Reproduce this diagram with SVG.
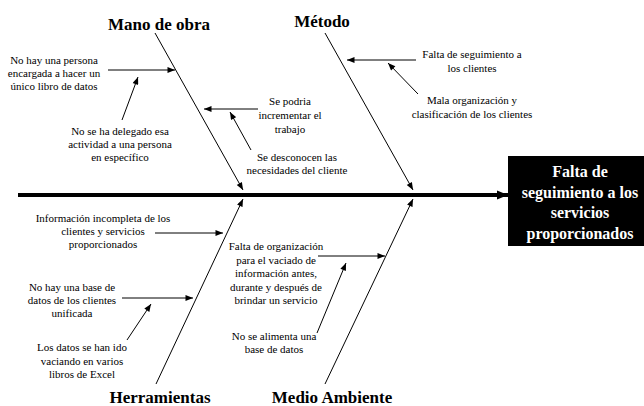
<svg xmlns="http://www.w3.org/2000/svg" width="644" height="406" viewBox="0 0 644 406">
<style>
.t{font-family:'Liberation Serif',Tinos,'Times New Roman',Times,'DejaVu Serif',serif;font-size:11px;fill:#000;text-anchor:middle}
.h{font-family:'Liberation Serif',Tinos,'Times New Roman',Times,'DejaVu Serif',serif;font-size:17px;font-weight:bold;fill:#000;text-anchor:middle}
.b{font-family:'Liberation Serif',Tinos,'Times New Roman',Times,'DejaVu Serif',serif;font-size:16px;font-weight:bold;fill:#fff;text-anchor:middle}
.ln{stroke:#000;stroke-width:1;fill:none;marker-end:url(#ah)}
</style>
<defs>
<marker id="ah" viewBox="0 0 10 8" refX="10" refY="4" markerWidth="9" markerHeight="6" markerUnits="userSpaceOnUse" orient="auto"><path d="M0,0 L10,4 L0,8 z" fill="#000"/></marker>
<marker id="ahb" viewBox="0 0 10 8" refX="10" refY="4" markerWidth="11" markerHeight="10" markerUnits="userSpaceOnUse" orient="auto"><path d="M0,0 L10,4 L0,8 z" fill="#000"/></marker>
</defs>
<rect width="644" height="406" fill="#fff"/>
<g id="connectors">
<line x1="18" y1="195" x2="508" y2="195" stroke="#000" stroke-width="4" marker-end="url(#ahb)"/>
<line class="ln" x1="155" y1="33" x2="243" y2="190"/>
<line class="ln" x1="325" y1="33" x2="413" y2="190"/>
<line class="ln" x1="156" y1="384" x2="243" y2="199"/>
<line class="ln" x1="325" y1="384" x2="413" y2="199"/>
<line class="ln" x1="108" y1="70" x2="175" y2="70"/>
<line class="ln" x1="122" y1="120" x2="138" y2="77"/>
<line class="ln" x1="258" y1="109" x2="204" y2="109"/>
<line class="ln" x1="251" y1="150" x2="230" y2="112"/>
<line class="ln" x1="416" y1="60" x2="347" y2="60"/>
<line class="ln" x1="418" y1="94" x2="388" y2="63"/>
<line class="ln" x1="155" y1="233" x2="223" y2="233"/>
<line class="ln" x1="122" y1="298" x2="193" y2="298"/>
<line class="ln" x1="127" y1="340" x2="151" y2="304"/>
<line class="ln" x1="318" y1="256" x2="385" y2="256"/>
<line class="ln" x1="317" y1="333" x2="346" y2="263"/>
</g>
<g id="effect">
<rect x="508" y="156" width="140" height="90" fill="#000"/>
<text class="b" x="580" y="177">Falta de</text>
<text class="b" x="580" y="198">seguimiento a los</text>
<text class="b" x="580" y="218">servicios</text>
<text class="b" x="580" y="239">proporcionados</text>
</g>
<g id="mano-de-obra">
<text class="h" x="159" y="30">Mano de obra</text>
</g>
<g id="metodo">
<text class="h" x="322" y="27">Método</text>
</g>
<g id="herramientas">
<text class="h" x="160" y="403">Herramientas</text>
</g>
<g id="medio-ambiente">
<text class="h" x="332" y="403">Medio Ambiente</text>
</g>
<g id="c1"><text class="t" x="54" y="64">No hay una persona</text><text class="t" x="54" y="77">encargada a hacer un</text><text class="t" x="54" y="90">único libro de datos</text></g>
<g id="c2"><text class="t" x="120" y="135">No se ha delegado esa</text><text class="t" x="120" y="148">actividad a una persona</text><text class="t" x="120" y="161">en específico</text></g>
<g id="c3"><text class="t" x="290" y="105">Se podria</text><text class="t" x="290" y="119">incrementar el</text><text class="t" x="290" y="133">trabajo</text></g>
<g id="c4"><text class="t" x="297" y="161">Se desconocen las</text><text class="t" x="297" y="174">necesidades del cliente</text></g>
<g id="c5"><text class="t" x="472" y="58">Falta de seguimiento a</text><text class="t" x="472" y="72">los clientes</text></g>
<g id="c6"><text class="t" x="472" y="104">Mala organización y</text><text class="t" x="472" y="118">clasificación de los clientes</text></g>
<g id="c7"><text class="t" x="103" y="222">Información incompleta de los</text><text class="t" x="103" y="235">clientes y servicios</text><text class="t" x="103" y="248">proporcionados</text></g>
<g id="c8"><text class="t" x="72" y="291">No hay una base de</text><text class="t" x="72" y="304">datos de los clientes</text><text class="t" x="72" y="317">unificada</text></g>
<g id="c9"><text class="t" x="82" y="351">Los datos se han ido</text><text class="t" x="82" y="365">vaciando en varios</text><text class="t" x="82" y="378">libros de Excel</text></g>
<g id="c10"><text class="t" x="276" y="250">Falta de organización</text><text class="t" x="276" y="264">para el vaciado de</text><text class="t" x="276" y="277">información antes,</text><text class="t" x="276" y="291">durante y después de</text><text class="t" x="276" y="304">brindar un servicio</text></g>
<g id="c11"><text class="t" x="274" y="340">No se alimenta una</text><text class="t" x="274" y="353">base de datos</text></g>
</svg>
